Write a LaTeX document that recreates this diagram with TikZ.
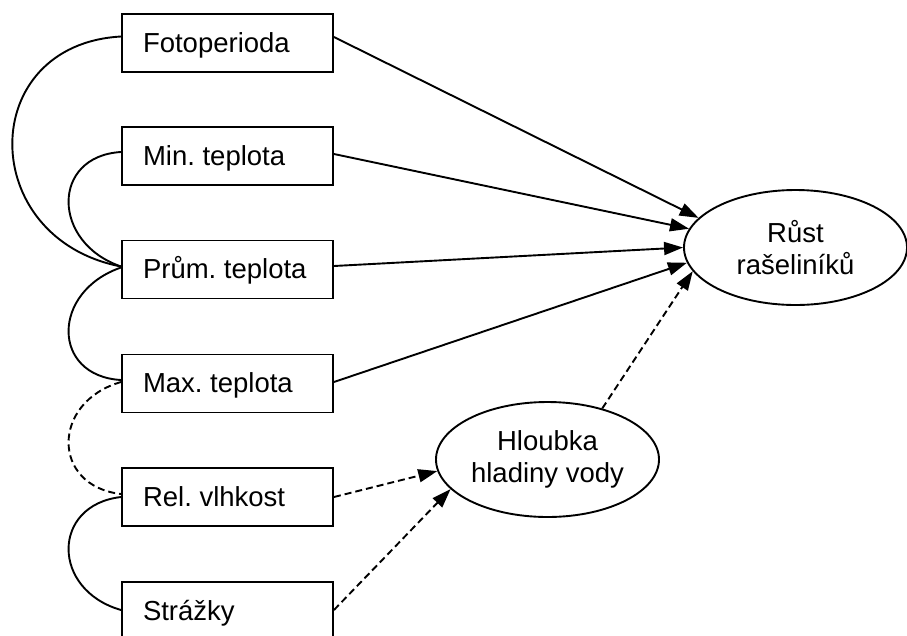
\documentclass[tikz,border=0pt]{standalone}
\usepackage{fontspec}
\setmainfont{Liberation Sans}
\usetikzlibrary{shapes.geometric,arrows.meta}
\begin{document}
\frenchspacing
\begin{tikzpicture}[x=1pt,y=-1pt,
  lw/.style={line width=1.9pt},
  varbox/.style={draw,lw,rectangle,minimum height=58pt,text width=169pt,align=flush left,
    inner xsep=21pt,inner ysep=0pt,text height=18pt,text depth=0pt,
    font=\fontsize{27.5}{32}\selectfont\frenchspacing},
  latent/.style={draw,lw,ellipse,minimum width=223pt,minimum height=115pt,inner sep=0pt,
    align=center,font=\fontsize{27.5}{32}\selectfont},
  arr/.style={lw,-{Triangle[length=19pt,width=13pt]}},
  darr/.style={arr,dash pattern=on 7pt off 4pt},
  cov/.style={lw},
  dcov/.style={lw,dash pattern=on 7pt off 4pt}]
\clip (0,0) rectangle (907,635);
\node[varbox] (fp) at (227.5,43) {Fotoperioda};
\node[varbox] (mn) at (227.5,156) {Min. teplota};
\node[varbox] (pr) at (227.5,269.5) {Prům. teplota};
\node[varbox] (mx) at (227.5,383.5) {Max. teplota};
\node[varbox] (rl) at (227.5,497) {Rel. vlhkost};
\node[varbox] (st) at (227.5,611) {Strážky};
\node[latent] (rs) at (795.5,247.5) {Růst\\rašeliníků};
\node[latent] (hl) at (547.5,459.5) {Hloubka\\hladiny vody};
% correlations
\draw[cov] ([yshift=6.5pt]fp.west) .. controls +(-145,8) and +(-145,-28) .. ([yshift=3pt]pr.west);
\draw[cov] ([yshift=4pt]mn.west) .. controls +(-70,4) and +(-70,-24) .. ([yshift=3pt]pr.west);
\draw[cov] ([yshift=2pt]pr.west) .. controls +(-70,24) and +(-70,-4) .. ([yshift=3.5pt]mx.west);
\draw[dcov] ([yshift=1.5pt]mx.west) .. controls +(-70,20) and +(-70,-8) .. ([yshift=3pt]rl.west);
\draw[cov] ([yshift=0pt]rl.west) .. controls +(-70,8) and +(-70,-20) .. ([yshift=1pt]st.west);
% regressions
\draw[arr] ([yshift=6pt]fp.east) -- (rs.163.3);
\draw[arr] ([yshift=2pt]mn.east) -- (rs.170.2);
\draw[arr] ([yshift=3.5pt]pr.east) -- (rs.180);
\draw[arr] ([yshift=1.5pt]mx.east) -- (rs.188.6);
\draw[darr] ([yshift=0pt]rl.east) -- (hl.186.3);
\draw[darr] ([yshift=1pt]st.east) -- (hl.197);
\draw[darr] (hl.43.9) -- (rs.193.8);
\end{tikzpicture}
\end{document}
